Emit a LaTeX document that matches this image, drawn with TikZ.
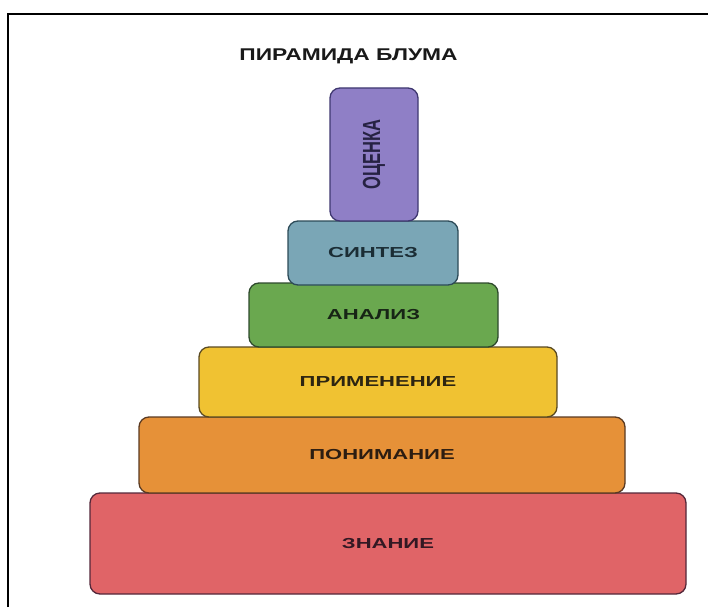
\documentclass[tikz,border=0pt]{standalone}
\usepackage{fontspec}
\usepackage{graphicx}
\setmainfont{Liberation Sans}

% 色の定義
\definecolor{ocenkaFill}{HTML}{8F7FC6}
\definecolor{ocenkaLine}{HTML}{3F3870}
\definecolor{sintezFill}{HTML}{7AA6B6}
\definecolor{sintezLine}{HTML}{2D4B58}
\definecolor{analizFill}{HTML}{6AA84F}
\definecolor{analizLine}{HTML}{2E4A2C}
\definecolor{primenFill}{HTML}{F0C232}
\definecolor{primenLine}{HTML}{5A4A22}
\definecolor{ponimFill}{HTML}{E69138}
\definecolor{ponimLine}{HTML}{5A3A22}
\definecolor{znanieFill}{HTML}{E06467}
\definecolor{znanieLine}{HTML}{54283A}

% 横に引き伸ばした文字
\newcommand{\widetext}[2]{\scalebox{#1}[1]{#2}}

\tikzset{
  level/.style={rounded corners=10pt, line width=1.3pt, inner sep=0pt,
    font=\bfseries\fontsize{14.5}{14.5}\selectfont},
}

\begin{document}
\begin{tikzpicture}[x=1pt, y=-1pt]
  % 画像の大きさ
  \useasboundingbox (0,0) rectangle (708,607);

  % 枠線 (上と左)
  \coordinate (F0) at (8,607);
  \coordinate (F1) at (8,14);
  \coordinate (F2) at (708,14);
  \draw[line width=2.5pt] (F0) -- (F1) -- (F2);

  % 題名
  \node[font=\bfseries\fontsize{17}{17}\selectfont, text=black!90] (title) at (348.5,56)
    {\widetext{1.34}{ПИРАМИДА БЛУМА}};

  % ピラミッドの各段 (下から)
  \node[level, fill=znanieFill, draw=znanieLine, text=znanieLine!60!black,
    minimum width=596pt, minimum height=101pt] (znanie) at (388,543.5)
    {\widetext{1.52}{ЗНАНИЕ}};
  \node[level, fill=ponimFill, draw=ponimLine, text=ponimLine!50!black,
    minimum width=486pt, minimum height=76pt] (ponim) at (382,455)
    {\widetext{1.52}{ПОНИМАНИЕ}};
  \node[level, fill=primenFill, draw=primenLine, text=primenLine!50!black,
    minimum width=358pt, minimum height=70pt] (primen) at (378,382)
    {\widetext{1.52}{ПРИМЕНЕНИЕ}};
  \node[level, fill=analizFill, draw=analizLine, text=analizLine!50!black,
    minimum width=249pt, minimum height=64pt] (analiz) at (373.5,315)
    {\widetext{1.52}{АНАЛИЗ}};
  \node[level, fill=sintezFill, draw=sintezLine, text=sintezLine!60!black,
    minimum width=170pt, minimum height=64pt] (sintez) at (373,253)
    {\widetext{1.52}{СИНТЕЗ}};

  % 最上段 (縦書き)
  \node[level, fill=ocenkaFill, draw=ocenkaLine, text=ocenkaLine!60!black,
    minimum width=88pt, minimum height=133pt] (ocenka) at (374,154.5)
    {\rotatebox{90}{\scalebox{1}[1.5]{\fontsize{16.5}{16.5}\selectfont ОЦЕНКА}}};

\end{tikzpicture}
\end{document}
